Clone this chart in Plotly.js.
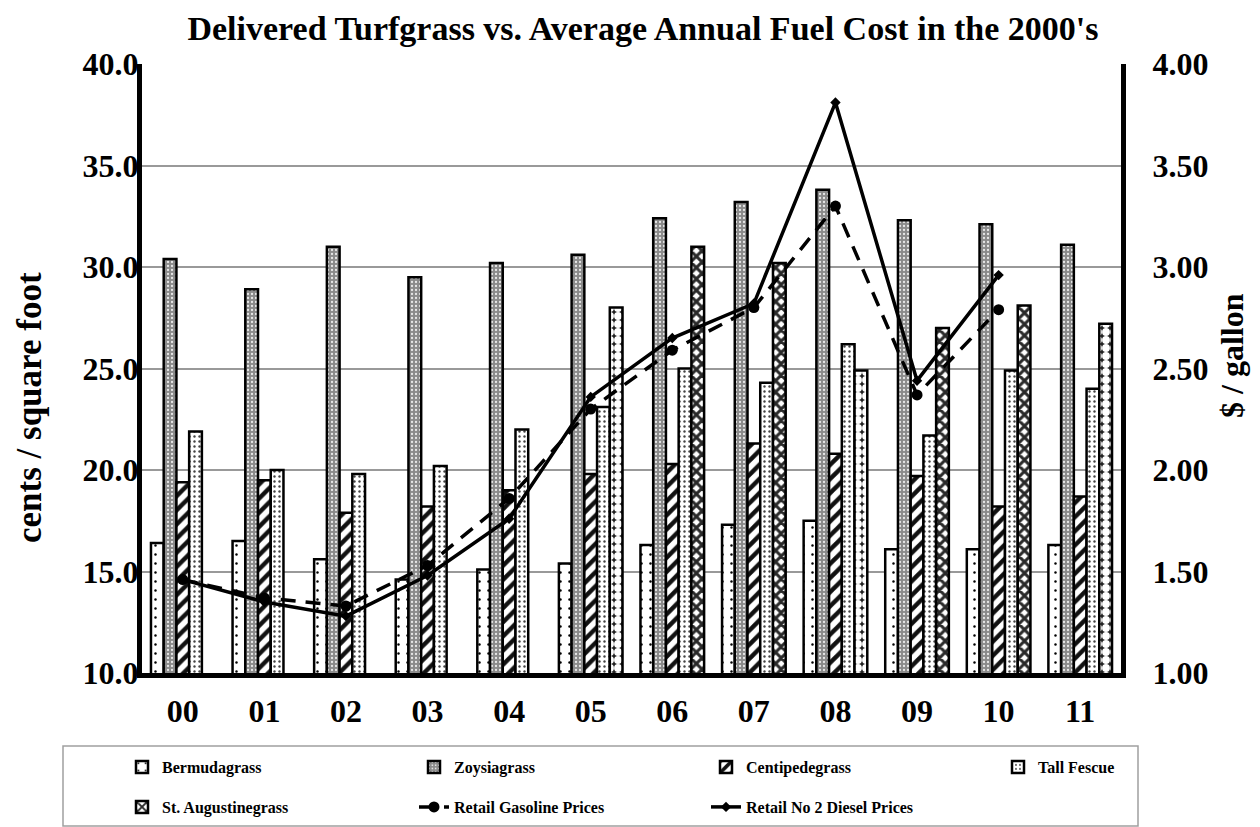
<!DOCTYPE html>
<html>
<head>
<meta charset="utf-8">
<script src="https://cdn.plot.ly/plotly-3.0.1.min.js"></script>
<style>
html,body{margin:0;padding:0;background:#fff;}
#chart{width:1260px;height:827px;}
</style>
</head>
<body>
<div id="chart"></div>
<script>
const years = ['00','01','02','03','04','05','06','07','08','09','10','11'];
const bermudagrass = [16.4,16.5,15.6,14.6,15.1,15.4,16.3,17.3,17.5,16.1,16.1,16.3];
const zoysiagrass = [30.4,28.9,31.0,29.5,30.2,30.6,32.4,33.2,33.8,32.3,32.1,31.1];
const centipedegrass = [19.4,19.5,17.9,18.2,19.0,19.8,20.3,21.3,20.8,19.7,18.2,18.7];
const tallFescue = [21.9,20.0,19.8,20.2,22.0,23.1,25.0,24.3,26.2,21.7,24.9,24.0];
const stAugustinegrass = [null,null,null,null,null,28.0,31.0,30.2,24.9,27.0,28.1,27.2];
const gasolinePrices = [1.46,1.37,1.33,1.53,1.86,2.30,2.59,2.80,3.30,2.37,2.79,null];
const dieselPrices = [1.46,1.35,1.28,1.48,1.76,2.36,2.65,2.82,3.81,2.44,2.96,null];
const leftTicks = [10,15,20,25,30,35,40];
const rightTicks = [1.0,1.5,2.0,2.5,3.0,3.5,4.0];

const FONT = 'Liberation Serif, Times New Roman, serif';
const outline = {color:'#000', width:2.5};

// St. Augustinegrass fill varies by bar in the picture
const roundYears = ['05','08','11'];
const staShape = years.map(y => roundYears.includes(y) ? '.' : 'x');
const staFg = years.map(y => roundYears.includes(y) ? '#ffffff' : '#2a2a2a');
const staBg = years.map(y => roundYears.includes(y) ? '#222222' : '#ffffff');
const staSol = years.map(y => roundYears.includes(y) ? 0.75 : 0.62);

const traces = [
  {type:'bar', name:'Bermudagrass', x:years, y:bermudagrass, legend:'legend',
   marker:{color:'#fff', line:outline, pattern:{shape:'.', fgcolor:'#000', bgcolor:'#fff', size:9, solidity:0.06}}},
  {type:'bar', name:'Zoysiagrass', x:years, y:zoysiagrass, legend:'legend',
   marker:{color:'#8f8f8f', line:outline, pattern:{shape:'.', fgcolor:'#e8e8e8', bgcolor:'#8a8a8a', size:4, solidity:0.25}}},
  {type:'bar', name:'Centipedegrass', x:years, y:centipedegrass, legend:'legend',
   marker:{color:'#fff', line:outline, pattern:{shape:'/', fgcolor:'#111', bgcolor:'#fff', size:10, solidity:0.45}}},
  {type:'bar', name:'Tall Fescue', x:years, y:tallFescue, legend:'legend3',
   marker:{color:'#fff', line:outline, pattern:{shape:'.', fgcolor:'#444', bgcolor:'#fff', size:5, solidity:0.18}}},
  {type:'bar', name:'St. Augustinegrass', x:years, y:stAugustinegrass, legend:'legend2',
   marker:{color:'#fff', line:outline, pattern:{shape:staShape, fgcolor:staFg, bgcolor:staBg, size:8, solidity:staSol}}},
  {type:'scatter', mode:'lines+markers', name:'Retail Gasoline Prices', x:years, y:gasolinePrices, yaxis:'y2', legend:'legend2',
   line:{color:'#000', width:3.5, dash:'15px,10px'}, marker:{symbol:'circle', size:11, color:'#000'}, connectgaps:false},
  {type:'scatter', mode:'lines+markers', name:'Retail No 2 Diesel Prices', x:years, y:dieselPrices, yaxis:'y2', legend:'legend2',
   line:{color:'#000', width:3.5}, marker:{symbol:'diamond', size:8, color:'#000'}, connectgaps:false}
];

const L = 142, R = 1121, T = 64, B = 673;
const PW = R - L, PH = B - T;
const px = v => (v - L) / PW;
const py = v => (B - v) / PH;

const legendCommon = {
  orientation:'h', xanchor:'left', yanchor:'middle',
  entrywidth:247, entrywidthmode:'pixels',
  font:{family:FONT, size:16, color:'#000', weight:'bold'},
  bgcolor:'rgba(0,0,0,0)', borderwidth:0, traceorder:'normal'
};

const layout = {
  width:1260, height:827,
  margin:{l:L, r:1260-R, t:T, b:827-B, pad:0, autoexpand:false},
  paper_bgcolor:'#fff', plot_bgcolor:'#fff',
  font:{family:FONT, color:'#000'},
  title:{text:"Delivered Turfgrass vs. Average Annual Fuel Cost in the 2000's",
         font:{family:FONT, size:34, weight:'bold', color:'#000'},
         x:643/1260, xanchor:'center', y:1-28/827, yanchor:'middle', yref:'container'},
  barmode:'group', bargap:0.22, bargroupgap:0,
  xaxis:{type:'category', range:[-0.5, years.length-0.5], autorange:false, showgrid:false, showline:true,
         linecolor:'#000', linewidth:5, automargin:false,
         ticks:'', tickfont:{family:FONT, size:32, weight:'bold', color:'#000'}, ticklabelstandoff:6, zeroline:false},
  yaxis:{range:[10,40], tickvals:leftTicks, tickformat:'.1f', showgrid:true, gridcolor:'#999', gridwidth:2,
         showline:true, linecolor:'#000', linewidth:5, ticks:'', zeroline:false, automargin:false,
         tickfont:{family:FONT, size:32, weight:'bold', color:'#000'}, ticklabelstandoff:-8},
  yaxis2:{range:[1,4], tickvals:rightTicks, tickformat:'.2f', overlaying:'y', side:'right', showgrid:false,
         showline:true, linecolor:'#000', linewidth:5, ticks:'', zeroline:false, automargin:false,
         tickfont:{family:FONT, size:32, weight:'bold', color:'#000'}, ticklabelstandoff:20},
  annotations:[
    {text:'cents / square foot', xref:'paper', yref:'paper', x:px(29), y:py(408), xanchor:'center', yanchor:'middle',
     textangle:-90, showarrow:false, font:{family:FONT, size:35, weight:'bold', color:'#000'}},
    {text:'$ / gallon', xref:'paper', yref:'paper', x:px(1232), y:py(356), xanchor:'center', yanchor:'middle',
     textangle:-90, showarrow:false, font:{family:FONT, size:32, weight:'bold', color:'#000'}}
  ],
  legend:Object.assign({}, legendCommon, {x:px(122), y:py(767)}),
  legend3:Object.assign({}, legendCommon, {x:px(122 + 3*292), y:py(767)}),
  legend2:Object.assign({}, legendCommon, {x:px(122), y:py(807)}),
  shapes:[{type:'rect', xref:'paper', yref:'paper', x0:px(63), x1:px(1138), y0:py(746), y1:py(826),
           line:{color:'#a0a0a0', width:1.5}, fillcolor:'rgba(0,0,0,0)', layer:'below'}],
  showlegend:true
};

Plotly.newPlot('chart', traces, layout, {staticPlot:true, displayModeBar:false});
</script>
</body>
</html>
